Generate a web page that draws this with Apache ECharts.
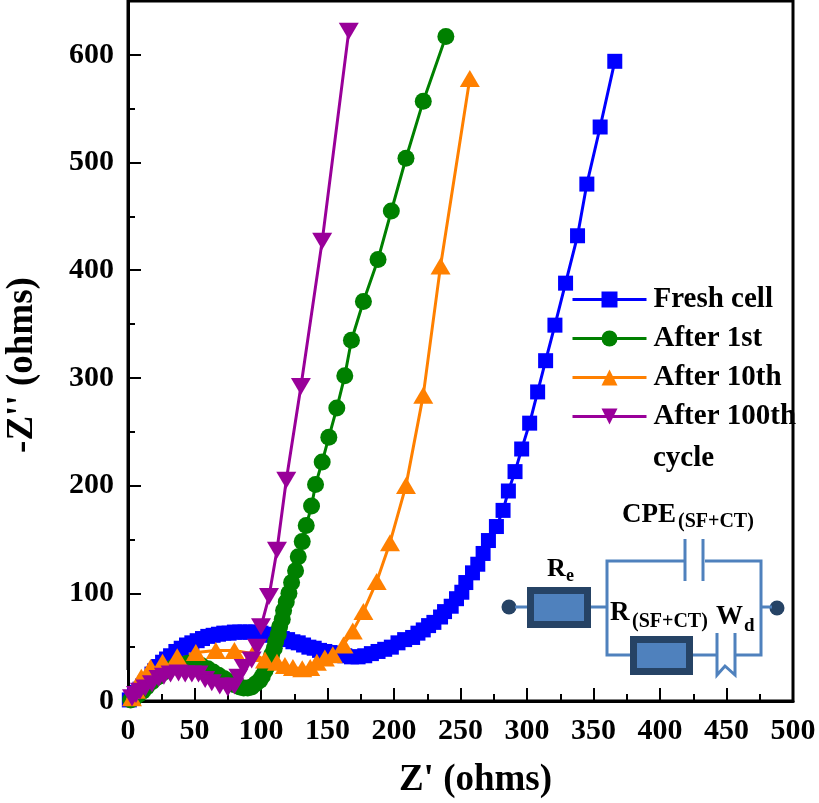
<!DOCTYPE html>
<html>
<head>
<meta charset="utf-8">
<title>Nyquist plot</title>
<script src="https://cdn.jsdelivr.net/npm/echarts@6/dist/echarts.min.js"></script>
<style>
html, body { margin: 0; padding: 0; background: #fff; }
#chart { width: 819px; height: 803px; }
</style>
</head>
<body>
<div id="chart"></div>
<script>
// values
const freshX = [1,3,5,7,9,11,13,15,18,20,23,26,29,32,36,40,44,48,52,56,60,64,68,72,76,80,84,88,92,96,100,104,108,112,116,120,124,128,132,136,140,144,148,152,156,160,163,168,173,178,183,188,193,198,203,208,214,218,222,226,230,235,238,243,247,251,254,259,263,267,271,277,282,286,291,296,302,308,314,321,329,338,345,355,366];
const freshY = [1,3,6,8,11,14,17,20,25,28,32,36,39,42,46,49,52,54,56,58,60,61,62,63,63,64,64,64,64,64,63,62,61,60,58,57,55,54,52,50,49,47,46,45,44,43,42,41,41,42,44,46,48,50,54,57,59,63,66,70,73,78,83,88,95,101,110,119,127,137,149,162,177,195,213,234,258,287,316,349,388,432,480,533,594];
const firstX = [2,5,8,11,14,18,22,26,30,35,40,45,50,55,60,64,68,72,76,80,84,87,90,93,96,99,101,103,105,107,108,110,111,113,114,116,117,119,121,123,126,128,131,134,138,141,146,151,157,163,168,177,188,198,209,222,239];
const firstY = [1,3,6,9,13,18,22,26,29,32,34,35,35,33,30,27,24,21,18,15,13,12,12,13,16,19,23,28,33,38,43,49,55,62,69,76,84,92,100,110,121,134,148,163,181,201,222,245,272,302,335,371,410,455,504,557,617];
const tenthX = [3,6,10,17,26,37,51,66,80,94,103,112,118,124,131,137,142,148,154,162,169,177,187,197,209,222,235,257];
const tenthY = [3,10,22,31,36,41,45,47,47,44,38,36,33,31,30,31,36,40,43,52,65,83,111,147,200,284,404,578];
const hundredthX = [3,6,9,13,18,23,27,32,38,43,48,53,58,63,69,75,80,83,87,93,97,100,106,112,119,130,146,166];
const hundredthY = [3,6,9,12,16,21,23,25,26,25,25,25,20,17,14,12,14,22,31,38,50,69,97,140,205,292,427,622];
const seriesNames = ['Fresh cell', 'After 1st', 'After 10th', 'After 100th'];
const xTicks = [0,50,100,150,200,250,300,350,400,450,500];
const yTicks = [0,100,200,300,400,500,600];
const yMinor = [50,150,250,350,450,550];

const FONT = '"Liberation Serif", "Times New Roman", serif';
const WIRE = '#4f81bd';
const DARK = '#264365';

const zip = (xs, ys) => xs.map((x, i) => [x, ys[i]]);

function wire(points) {
    return { type: 'polyline', shape: { points }, style: { stroke: WIRE, lineWidth: 3, fill: null } };
}
function box(x, y, w, h) {
    return { type: 'rect', shape: { x: x + 3.5, y: y + 3.5, width: w - 7, height: h - 7 }, style: { fill: WIRE, stroke: DARK, lineWidth: 7 } };
}
function dot(x, y) {
    return { type: 'circle', shape: { cx: x, cy: y, r: 7.5 }, style: { fill: DARK } };
}
function label(text, x, y, size) {
    return { type: 'text', style: { text, x, y, font: 'bold ' + size + 'px ' + FONT, fill: '#000', textVerticalAlign: 'bottom' } };
}
// markers stop at the axes in the original, the white strips sit between series and axes
function mask(x, y, w, h) {
    return { type: 'rect', z: 2.5, shape: { x, y, width: w, height: h }, style: { fill: '#fff' } };
}

const chart = echarts.init(document.getElementById('chart'));
chart.setOption({
    animation: false,
    backgroundColor: '#fff',
    grid: { left: 128, right: 26, top: 1, bottom: 102, outerBoundsMode: 'none', show: true, borderColor: '#000', borderWidth: 3, backgroundColor: 'transparent' },
    legend: {
        orient: 'vertical',
        left: 566,
        top: 280,
        itemWidth: 74,
        itemHeight: 20,
        itemGap: 10,
        selectedMode: false,
        data: seriesNames,
        lineStyle: { width: 3 },
        textStyle: { fontFamily: FONT, fontWeight: 'bold', fontSize: 29, color: '#000', padding: [0, 0, 0, 2] }
    },
    xAxis: {
        type: 'value',
        z: 3,
        min: 0,
        max: 500,
        interval: 50,
        name: "Z' (ohms)",
        nameLocation: 'middle',
        nameGap: 61,
        nameTextStyle: { fontFamily: FONT, fontWeight: 'bold', fontSize: 37, color: '#000', padding: [0, 0, 0, 30] },
        axisLine: { onZero: false, lineStyle: { color: '#000', width: 3 } },
        axisTick: { inside: true, length: 13, lineStyle: { color: '#000', width: 2 } },
        minorTick: { show: true, splitNumber: 2, length: 7, lineStyle: { color: '#000', width: 2 } },
        axisLabel: { margin: 15, fontFamily: FONT, fontWeight: 'bold', fontSize: 30, color: '#000', customValues: xTicks },
        splitLine: { show: false }
    },
    yAxis: [
        {
            type: 'value',
            z: 3,
            min: 0,
            max: 650,
            name: "-Z'' (ohms)",
            nameLocation: 'middle',
            nameGap: 87,
            nameTextStyle: { fontFamily: FONT, fontWeight: 'bold', fontSize: 37, color: '#000', padding: [0, 28, 0, 0] },
            axisLine: { onZero: false, lineStyle: { color: '#000', width: 3 } },
            axisTick: { inside: true, length: 13, lineStyle: { color: '#000', width: 2 }, customValues: yTicks },
            axisLabel: { margin: 14, fontFamily: FONT, fontWeight: 'bold', fontSize: 30, color: '#000', customValues: yTicks },
            splitLine: { show: false }
        },
        {
            // second axis only for the short ticks, 625 must not get one
            type: 'value',
            z: 3,
            position: 'left',
            min: 0,
            max: 650,
            axisLine: { show: false },
            axisTick: { inside: true, length: 7, lineStyle: { color: '#000', width: 2 }, customValues: yMinor },
            axisLabel: { show: false },
            splitLine: { show: false }
        }
    ],
    series: [
        { name: seriesNames[0], type: 'line', data: zip(freshX, freshY), symbol: 'rect', symbolSize: 15, color: '#0000ff', lineStyle: { width: 3 } },
        { name: seriesNames[1], type: 'line', data: zip(firstX, firstY), symbol: 'circle', symbolSize: 17, color: '#008000', lineStyle: { width: 3 } },
        { name: seriesNames[2], type: 'line', data: zip(tenthX, tenthY), symbol: 'triangle', symbolSize: [20, 17], color: '#ff8000', lineStyle: { width: 3 } },
        { name: seriesNames[3], type: 'line', data: zip(hundredthX, hundredthY), symbol: 'triangle', symbolRotate: 180, symbolSize: [20, 17], color: '#990099', lineStyle: { width: 3 } }
    ],
    graphic: [
        mask(108, 670, 19, 40),
        mask(108, 702, 60, 12),
        label('cycle', 653, 473, 29),
        // circuit sketch
        dot(509, 607),
        dot(777, 608),
        wire([[515, 607], [607, 607]]),
        wire([[684, 561], [607, 561], [607, 655], [630, 655]]),
        wire([[705, 561], [761, 561], [761, 655], [736, 655]]),
        wire([[761, 607], [772, 607]]),
        wire([[685, 539], [685, 581]]),
        wire([[703, 539], [703, 581]]),
        wire([[693, 655], [717, 655]]),
        wire([[717, 633], [717, 675], [725, 666], [735, 675], [735, 633]]),
        box(527, 587, 64, 41),
        box(630, 636, 63, 39),
        label('CPE', 622, 529, 27),
        label('(SF+CT)', 678, 532, 20),
        label('R', 547, 582, 26),
        label('e', 566, 585, 18),
        label('R', 610, 627, 27),
        label('(SF+CT)', 632, 632, 20),
        label('W', 716, 631, 27),
        label('d', 744, 636, 19)
    ]
});
</script>
</body>
</html>
